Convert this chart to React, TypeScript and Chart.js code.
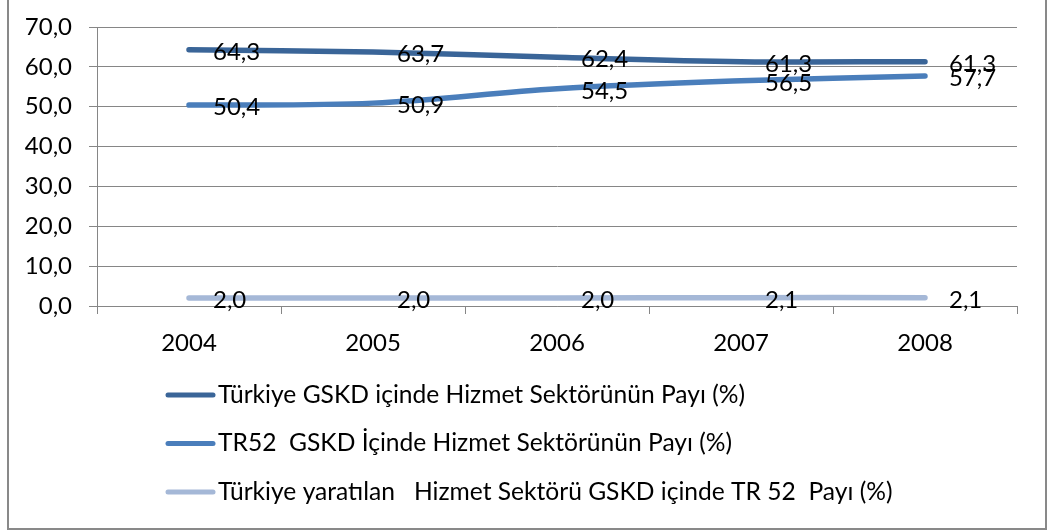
import React, { useEffect, useRef } from "react";
import { Chart, registerables } from "chart.js";

Chart.register(...registerables);

const years = ["2004", "2005", "2006", "2007", "2008"];
const turkiyeShare = [64.3, 63.7, 62.4, 61.3, 61.3];
const tr52Share = [50.4, 50.9, 54.5, 56.5, 57.7];
const tr52OfTurkiye = [2.0, 2.0, 2.0, 2.1, 2.1];
const seriesLabels = [
  "Türkiye GSKD içinde Hizmet Sektörünün Payı (%)",
  "TR52  GSKD İçinde Hizmet Sektörünün Payı (%)",
  "Türkiye yaratılan   Hizmet Sektörü GSKD içinde TR 52  Payı (%)",
];
const seriesColors = ["#3A6598", "#4A7EBB", "#A5B8D7"];
const yMin = 0;
const yMax = 70;
const yStep = 10;

const FONT = "Lato, 'Open Sans', sans-serif";
const GRID = "#868686";

const fmt = (v: number) => v.toFixed(1).replace(".", ",");

const decorPlugin = {
  id: "decor",
  afterDatasetsDraw(chart: any) {
    const ctx = chart.ctx;
    ctx.save();
    ctx.font = `24px ${FONT}`;
    ctx.fillStyle = "#000";
    ctx.textAlign = "left";
    ctx.textBaseline = "alphabetic";
    chart.data.datasets.forEach((ds: any, i: number) => {
      const meta = chart.getDatasetMeta(i);
      meta.data.forEach((pt: any, j: number) => {
        ctx.fillText(fmt(ds.data[j]), pt.x + 24, pt.y + 10);
      });
    });
    ctx.restore();
  },
  afterDraw(chart: any) {
    const ctx = chart.ctx;
    ctx.save();
    // legend
    const rowYs = [395, 443.5, 492];
    chart.data.datasets.forEach((ds: any, i: number) => {
      const y = rowYs[i];
      ctx.strokeStyle = ds.borderColor;
      ctx.lineWidth = 5;
      ctx.lineCap = "round";
      ctx.beginPath();
      ctx.moveTo(168, y);
      ctx.lineTo(213, y);
      ctx.stroke();
      ctx.fillStyle = "#000";
      ctx.font = `24.6px ${FONT}`;
      ctx.textAlign = "left";
      ctx.textBaseline = "middle";
      ctx.fillText(ds.label, 218, y);
    });
    // outer border
    ctx.strokeStyle = "#898989";
    ctx.lineWidth = 2;
    ctx.lineCap = "butt";
    ctx.strokeRect(8, -10, 1038, 539);
    ctx.restore();
  },
};

export default function App() {
  const ref = useRef<HTMLCanvasElement | null>(null);
  useEffect(() => {
    if (!ref.current) return;
    const data = [turkiyeShare, tr52Share, tr52OfTurkiye];
    const chart = new Chart(ref.current, {
      type: "line",
      data: {
        labels: years,
        datasets: data.map((d, i) => ({
          label: seriesLabels[i],
          data: d,
          borderColor: seriesColors[i],
          backgroundColor: seriesColors[i],
          borderWidth: 5.5,
          borderCapStyle: "round" as const,
          pointRadius: 0,
          tension: 0.35,
          fill: false,
        })),
      },
      options: {
        responsive: false,
        animation: false,
        layout: { padding: { left: 0, top: 27, right: 31, bottom: 176 } },
        plugins: { legend: { display: false }, tooltip: { enabled: false } },
        scales: {
          x: {
            type: "category",
            offset: true,
            grid: {
              offset: true,
              drawOnChartArea: false,
              drawTicks: true,
              tickLength: 8,
              color: GRID,
            },
            border: { display: true, color: GRID },
            ticks: {
              color: "#000",
              font: { family: FONT, size: 24 },
              padding: 15,
              maxRotation: 0,
            },
            afterFit(scale: any) {
              scale.height = 50;
              scale.paddingLeft = 0;
              scale.paddingRight = 0;
            },
          },
          y: {
            min: yMin,
            max: yMax,
            grid: { color: GRID, tickLength: 8, drawTicks: true },
            border: { display: true, color: GRID },
            ticks: {
              stepSize: yStep,
              color: "#000",
              font: { family: FONT, size: 24 },
              padding: 17,
              callback: (v: any) => fmt(Number(v)),
            },
            afterFit(scale: any) {
              scale.width = 97;
              scale.paddingTop = 0;
              scale.paddingBottom = 0;
            },
          },
        },
      },
      plugins: [decorPlugin],
    });
    return () => chart.destroy();
  }, []);
  return (
    <div style={{ position: "fixed", left: 0, top: 0, width: 1048, height: 532, background: "#fff" }}>
      <canvas ref={ref} width={1048} height={532} style={{ display: "block" }} />
    </div>
  );
}
